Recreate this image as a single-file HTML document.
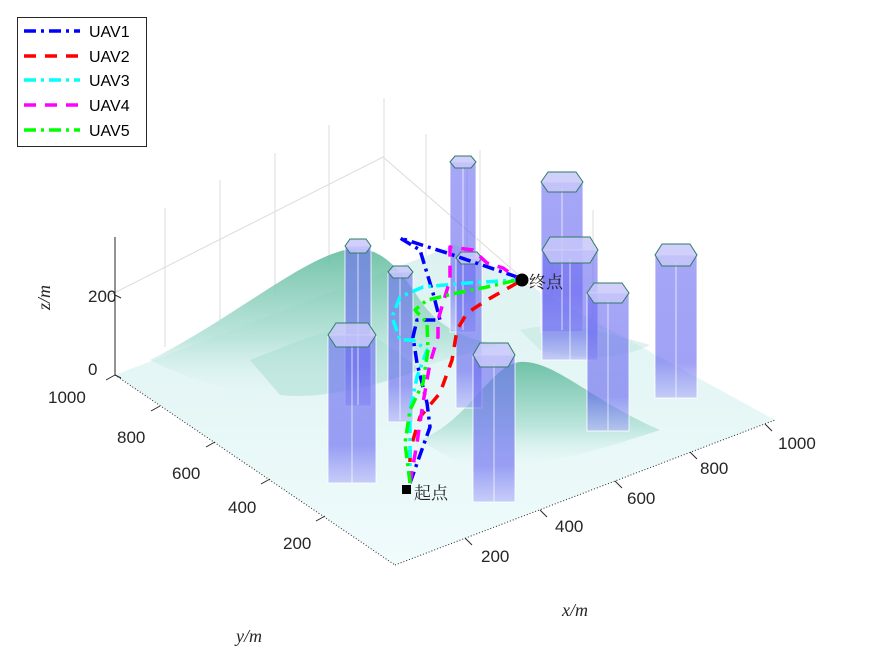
<!DOCTYPE html>
<html><head><meta charset="utf-8">
<style>
html,body{margin:0;padding:0;background:#fff;}
svg{display:block;font-family:"Liberation Sans","Noto Sans CJK SC",sans-serif;}
</style></head>
<body>
<svg width="875" height="656" viewBox="0 0 875 656" xmlns="http://www.w3.org/2000/svg">
<defs>
<linearGradient id="fl" x1="0" y1="0" x2="0" y2="1">
<stop offset="0" stop-color="#dcf2f0"/><stop offset="1" stop-color="#f0fbfc"/>
</linearGradient>
<linearGradient id="h1" x1="0" y1="0" x2="0" y2="1">
<stop offset="0" stop-color="#5cb99a"/><stop offset="0.6" stop-color="#b4e2d8"/><stop offset="1" stop-color="#e6f7f7" stop-opacity="0"/>
</linearGradient>
<linearGradient id="col" x1="0" y1="0" x2="0" y2="1">
<stop offset="0" stop-color="#7070f2" stop-opacity="0.62"/><stop offset="0.75" stop-color="#6262f0" stop-opacity="0.6"/><stop offset="1" stop-color="#a8a8f8" stop-opacity="0.55"/>
</linearGradient>
</defs>

<g stroke="#dcdcdc" stroke-width="1" fill="none">
<polyline points="110,295 383,157 567,317 770,420"/>
<line x1="165" y1="208" x2="165" y2="347"/>
<line x1="220" y1="180" x2="220" y2="320"/>
<line x1="275" y1="153" x2="275" y2="292"/>
<line x1="329" y1="125" x2="329" y2="265"/>
<line x1="384" y1="98" x2="384" y2="240"/>
<line x1="426" y1="134" x2="426" y2="270"/>
<line x1="467" y1="170" x2="467" y2="305"/>
<line x1="510" y1="207" x2="510" y2="340"/>
<line x1="552" y1="242" x2="552" y2="370"/>
<line x1="593" y1="210" x2="593" y2="380"/>
<line x1="480" y1="150" x2="480" y2="300"/>
</g>

<polygon points="115,375 395,565 775,420 455,245" fill="url(#fl)"/>
<path d="M150,360 C230,320 300,260 345,250 C380,242 400,270 420,300 C440,330 470,340 500,345 C440,360 380,380 330,400 C260,400 200,385 150,360 Z" fill="url(#h1)" opacity="0.85"/>
<path d="M250,360 C290,345 320,330 345,330 C370,330 390,345 420,370 C380,385 320,400 280,395 Z" fill="#a6dccf" opacity="0.5"/>
<path d="M420,440 C470,420 490,365 520,362 C555,360 590,400 660,430 C600,450 530,470 470,470 Z" fill="url(#h1)" opacity="0.85"/>
<path d="M520,330 C560,320 600,330 650,345 C620,360 580,360 540,350 Z" fill="#bfe6de" opacity="0.5"/>

<g stroke="#ffffff" stroke-opacity="0.8" stroke-width="1">
<rect x="450" y="162" width="26" height="170" fill="url(#col)"/>
<rect x="541" y="182" width="42" height="150" fill="url(#col)"/>
<rect x="345" y="246" width="26" height="160" fill="url(#col)"/>
<rect x="456" y="258" width="26" height="150" fill="url(#col)"/>
<rect x="388" y="272" width="25" height="150" fill="url(#col)"/>
<rect x="542" y="250" width="56" height="110" fill="url(#col)"/>
<rect x="655" y="255" width="42" height="143" fill="url(#col)"/>
<rect x="587" y="293" width="42" height="138" fill="url(#col)"/>
<rect x="328" y="335" width="48" height="148" fill="url(#col)"/>
<rect x="473" y="355" width="42" height="147" fill="url(#col)"/>
</g>
<g stroke="#ffffff" stroke-opacity="0.7" stroke-width="1">
<line x1="463" y1="166" x2="463" y2="330"/>
<line x1="562" y1="188" x2="562" y2="330"/>
<line x1="358" y1="250" x2="358" y2="405"/>
<line x1="400" y1="276" x2="400" y2="420"/>
<line x1="570" y1="258" x2="570" y2="360"/>
<line x1="676" y1="262" x2="676" y2="398"/>
<line x1="608" y1="300" x2="608" y2="431"/>
<line x1="352" y1="343" x2="352" y2="483"/>
<line x1="494" y1="363" x2="494" y2="502"/>
</g>
<g stroke="#2f7a6a" stroke-width="1" fill="#c8c8fa" fill-opacity="0.85">
<polygon points="450,162 455,156 471,156 476,162 471,168 455,168"/>
<polygon points="541,182 548,172 576,172 583,182 576,192 548,192"/>
<polygon points="345,246 350,239 366,239 371,246 366,253 350,253"/>
<polygon points="456,258 461,252 477,252 482,258 477,264 461,264"/>
<polygon points="388,272 393,266 408,266 413,272 408,278 393,278"/>
<polygon points="542,250 550,237 590,237 598,250 590,263 550,263"/>
<polygon points="655,255 662,244 690,244 697,255 690,266 662,266"/>
<polygon points="587,293 594,283 622,283 629,293 622,303 594,303"/>
<polygon points="328,335 336,323 368,323 376,335 368,347 336,347"/>
<polygon points="473,355 480,343 508,343 515,355 508,367 480,367"/>
</g>

<line x1="115" y1="237" x2="115" y2="375" stroke="#262626" stroke-width="1"/>
<line x1="115" y1="295" x2="121" y2="298" stroke="#262626"/>
<line x1="115" y1="375" x2="121" y2="378" stroke="#262626"/>
<line x1="115" y1="375" x2="395" y2="565" stroke="#262626" stroke-dasharray="1,2"/>
<line x1="395" y1="565" x2="775" y2="420" stroke="#262626" stroke-dasharray="1,2"/>
<g stroke="#262626">
<line x1="115" y1="375" x2="106" y2="380"/>
<line x1="160" y1="406" x2="151" y2="411"/>
<line x1="215" y1="442" x2="206" y2="447"/>
<line x1="270" y1="479" x2="261" y2="484"/>
<line x1="325" y1="516" x2="316" y2="521"/>
<line x1="465" y1="538" x2="472" y2="545"/>
<line x1="540" y1="510" x2="547" y2="517"/>
<line x1="615" y1="481" x2="622" y2="488"/>
<line x1="690" y1="452" x2="697" y2="459"/>
<line x1="765" y1="424" x2="772" y2="431"/>
</g>
<g font-size="17" fill="#262626">
<text x="88" y="302">200</text>
<text x="88" y="375">0</text>
<text x="48" y="403">1000</text>
<text x="117" y="443">800</text>
<text x="172" y="479">600</text>
<text x="228" y="513">400</text>
<text x="283" y="549">200</text>
<text x="481" y="562">200</text>
<text x="555" y="532">400</text>
<text x="627" y="504">600</text>
<text x="700" y="474">800</text>
<text x="778" y="449">1000</text>
</g>
<g font-family="Liberation Serif,serif" font-style="italic" font-size="18" fill="#262626">
<text x="562" y="616">x/m</text>
<text x="236" y="642">y/m</text>
<text transform="translate(50,310) rotate(-90)">z/m</text>
</g>

<g fill="none" stroke-width="3.5" stroke-linejoin="round">
<polyline stroke="#0000ff" stroke-dasharray="12,5,3,5" points="410,483 430,427 427,403 417,363 413,337 417,320 440,320 433,293 420,250 400,238 447,253 520,278"/>
<polyline stroke="#ff0000" stroke-dasharray="12,9" points="410,483 410,450 420,417 440,393 452,360 457,330 467,313 487,300 517,283"/>
<polyline stroke="#00ffff" stroke-dasharray="12,5,3,5" points="410,483 410,457 410,410 417,377 427,350 413,340 400,340 392,317 400,297 423,287 467,283 517,280"/>
<polyline stroke="#ff00ff" stroke-dasharray="12,9" points="410,483 417,443 423,403 430,363 438,337 438,320 443,303 450,280 450,247 473,250 487,263 503,268 517,278"/>
<polyline stroke="#00ff00" stroke-dasharray="12,5,3,5" points="410,483 405,443 410,410 423,383 428,350 427,323 415,310 427,300 457,293 487,287 517,280"/>
</g>
<circle cx="522" cy="280" r="6.5" fill="#000"/>
<rect x="402" y="485" width="9" height="9" fill="#000"/>
<g font-size="17" fill="#222" font-family="Liberation Serif,'Noto Serif CJK SC',serif">
<text x="414" y="499">起点</text>
<text x="529" y="288">终点</text>
</g>

<rect x="17.5" y="17.5" width="129" height="129" fill="#fff" stroke="#262626" stroke-width="1"/>
<g stroke-width="3.5" fill="none">
<line x1="24" y1="31" x2="80" y2="31" stroke="#0000ff" stroke-dasharray="12,5,3,5"/>
<line x1="24" y1="56" x2="80" y2="56" stroke="#ff0000" stroke-dasharray="12,9"/>
<line x1="24" y1="80" x2="80" y2="80" stroke="#00ffff" stroke-dasharray="12,5,3,5"/>
<line x1="24" y1="105" x2="80" y2="105" stroke="#ff00ff" stroke-dasharray="12,9"/>
<line x1="24" y1="130" x2="80" y2="130" stroke="#00ff00" stroke-dasharray="12,5,3,5"/>
</g>
<g font-size="16" fill="#000">
<text x="89" y="37">UAV1</text>
<text x="89" y="62">UAV2</text>
<text x="89" y="86">UAV3</text>
<text x="89" y="111">UAV4</text>
<text x="89" y="136">UAV5</text>
</g>
</svg>
</body></html>
